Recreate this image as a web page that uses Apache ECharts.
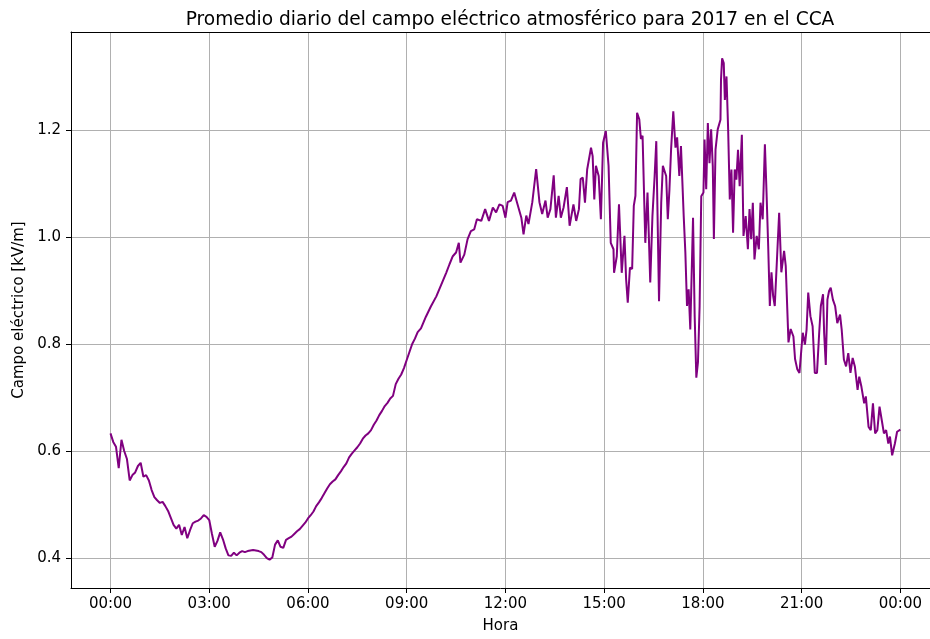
<!DOCTYPE html>
<html>
<head>
<meta charset="utf-8">
<title>Campo eléctrico 2017 CCA</title>
<script src="https://cdn.jsdelivr.net/npm/echarts@6.0.0/dist/echarts.min.js"></script>
<style>
  html, body { margin: 0; padding: 0; background: #fff; }
  #chart { width: 930px; height: 639px; }
</style>
</head>
<body>
<div id="chart"></div>
<script>
// minutos desde 00:00 y campo en kV/m
const tMadrugada = [0,5,10,15,20,25,30,35,40,45,50,55,60,65,70,75,80,85,90,95,100,105,110,115,120,125,130,135,140,145,150,155,160,165,170,175,180,185,190,195,200,205,210,215,220,225,230,235,240,245,250,255,260,265,270,275,280,285,290,295,300,305,310,315,320,325,330,335,340,345,350,355];
const vMadrugada = [0.633,0.617,0.608,0.568,0.621,0.600,0.585,0.545,0.555,0.560,0.572,0.578,0.552,0.555,0.545,0.527,0.514,0.508,0.503,0.505,0.497,0.488,0.475,0.462,0.455,0.462,0.443,0.458,0.437,0.452,0.465,0.468,0.470,0.474,0.480,0.477,0.471,0.445,0.421,0.432,0.448,0.435,0.418,0.405,0.404,0.410,0.405,0.410,0.413,0.411,0.413,0.414,0.415,0.414,0.413,0.411,0.406,0.400,0.397,0.401,0.425,0.433,0.421,0.419,0.434,0.437,0.440,0.445,0.450,0.454,0.460,0.466];

const tManana = [360,365,370,375,380,385,390,395,400,405,410,415,420,425,430,435,440,445,450,455,460,465,470,475,480,485,490,495,500,505,510,515,520,525,530,535,540,545,550,555,560,566,575,584,594,603,612,618,624,630,635,638,645,651,657,663,668,676,683,690,697,703,709,715];
const vManana = [0.474,0.480,0.487,0.497,0.504,0.512,0.521,0.530,0.538,0.543,0.547,0.555,0.562,0.570,0.577,0.588,0.595,0.601,0.607,0.614,0.623,0.629,0.633,0.639,0.649,0.657,0.667,0.675,0.684,0.690,0.698,0.703,0.725,0.735,0.743,0.755,0.770,0.785,0.800,0.810,0.822,0.829,0.851,0.870,0.889,0.911,0.933,0.949,0.964,0.971,0.989,0.952,0.967,0.996,1.011,1.014,1.033,1.030,1.052,1.030,1.055,1.046,1.061,1.058];

const tTarde = [720,724,730,736,742,749,753,758,762,769,776,782,787,793,797,802,808,812,817,821,826,832,837,844,849,854,857,861,865,869,876,879,882,885,890,894,898,903,908,912,917,918,923,927,932,937,940,943,947,951,954,957,960,964,967,970,975,979,984,988,992,995,1000,1004,1007,1013,1016,1019,1022,1026,1030,1033,1037,1040,1045,1048,1051,1054,1057,1062,1065,1068,1071,1074,1077];
const vTarde = [1.036,1.065,1.068,1.083,1.061,1.036,1.005,1.040,1.024,1.065,1.127,1.065,1.043,1.068,1.036,1.052,1.115,1.036,1.077,1.036,1.055,1.093,1.021,1.061,1.030,1.052,1.108,1.111,1.064,1.126,1.167,1.151,1.070,1.133,1.114,1.033,1.176,1.198,1.133,0.989,0.977,0.933,0.964,1.061,0.933,1.002,0.921,0.877,0.943,0.940,1.058,1.077,1.232,1.220,1.183,1.189,0.989,1.083,0.915,1.039,1.114,1.179,0.880,1.064,1.133,1.114,1.033,1.089,1.164,1.235,1.167,1.186,1.114,1.170,1.039,0.971,0.871,0.902,0.827,1.036,0.852,0.737,0.766,0.871,1.076];

const tNoche = [1081,1083,1086,1089,1092,1095,1098,1100,1103,1107,1112,1113,1115,1118,1120,1123,1126,1129,1132,1135,1138,1141,1144,1147,1151,1154,1158,1162,1165,1168,1171,1174,1178,1182,1185,1189,1193,1196,1199,1202,1205,1208,1211,1215,1219,1223,1228,1231,1236,1240,1245,1248,1252,1256,1262,1266,1269,1272,1276,1280,1284,1288,1292,1295,1299,1301,1304,1307,1310,1313,1317,1321,1325,1330,1333,1337,1341,1345,1349,1353,1357,1362,1365,1369,1374,1377,1382,1386,1390,1394,1398,1402,1406,1410,1414,1418,1421,1425,1430,1434,1440];
const vNoche = [1.083,1.182,1.089,1.213,1.138,1.201,1.132,0.996,1.163,1.201,1.219,1.294,1.334,1.325,1.256,1.300,1.201,1.070,1.126,1.008,1.126,1.107,1.163,1.095,1.191,1.002,1.039,0.977,1.052,0.996,1.064,0.958,1.002,0.977,1.064,1.033,1.173,1.083,0.983,0.871,0.934,0.890,0.871,0.958,1.045,0.934,0.974,0.946,0.803,0.828,0.814,0.772,0.753,0.746,0.821,0.799,0.827,0.896,0.852,0.833,0.746,0.746,0.821,0.871,0.893,0.821,0.761,0.883,0.899,0.905,0.883,0.871,0.839,0.855,0.827,0.771,0.758,0.783,0.746,0.774,0.758,0.714,0.739,0.720,0.689,0.702,0.645,0.639,0.689,0.633,0.639,0.683,0.658,0.633,0.639,0.614,0.627,0.592,0.614,0.636,0.640];

const horasTicks = [0,180,360,540,720,900,1080,1260,1440];
const campoTicks = [0.4,0.6,0.8,1.0,1.2];

const minutos = tMadrugada.concat(tManana, tTarde, tNoche);
const campo = vMadrugada.concat(vManana, vTarde, vNoche);
const serie = minutos.map((t, i) => [t, campo[i]]);

const fuente = 'DejaVu Sans';
const negro = '#000000';

function fmtHora(v) {
  const h = Math.round(v / 60) % 24;
  return (h < 10 ? '0' : '') + h + ':00';
}

const chart = echarts.init(document.getElementById('chart'), null, { renderer: 'canvas' });
chart.setOption({
  animation: false,
  backgroundColor: '#ffffff',
  title: {
    text: 'Promedio diario del campo eléctrico atmosférico para 2017 en el CCA',
    left: 505,
    textAlign: 'center',
    top: 6,
    textStyle: { fontFamily: fuente, fontSize: 18.6, fontWeight: 'normal', color: negro }
  },
  grid: { left: 71, right: 0, top: 32, bottom: 51, containLabel: false },
  xAxis: [{
    type: 'value',
    min: -72,
    max: 1494,
    name: 'Hora',
    nameLocation: 'middle',
    nameGap: 31,
    nameTextStyle: { fontFamily: fuente, fontSize: 15, color: negro },
    axisLine: { show: true, onZero: false, lineStyle: { color: negro, width: 1 } },
    axisTick: { show: true, length: 5, customValues: horasTicks, lineStyle: { color: negro, width: 1 } },
    axisLabel: { customValues: horasTicks, formatter: fmtHora, margin: 9, fontFamily: fuente, fontSize: 15, color: negro },
    splitLine: { show: true, lineStyle: { color: '#b0b0b0', width: 1 } }
  }, {
    type: 'value',
    position: 'top',
    min: -72,
    max: 1494,
    axisLine: { show: true, onZero: false, lineStyle: { color: negro, width: 1 } },
    axisTick: { show: false },
    axisLabel: { show: false },
    splitLine: { show: false }
  }],
  yAxis: {
    type: 'value',
    min: 0.344,
    max: 1.383,
    name: 'Campo eléctrico [kV/m]',
    nameLocation: 'middle',
    nameGap: 42,
    nameTextStyle: { fontFamily: fuente, fontSize: 15, color: negro },
    axisLine: { show: true, onZero: false, lineStyle: { color: negro, width: 1 } },
    axisTick: { show: true, length: 5, customValues: campoTicks, lineStyle: { color: negro, width: 1 } },
    axisLabel: { customValues: campoTicks, formatter: v => v.toFixed(1), margin: 10, fontFamily: fuente, fontSize: 15, color: negro },
    splitLine: { show: true, lineStyle: { color: '#b0b0b0', width: 1 } }
  },
  series: [{
    type: 'line',
    data: serie,
    showSymbol: false,
    xAxisIndex: 0,
    lineStyle: { color: '#800080', width: 2 },
    itemStyle: { color: '#800080' }
  }]
});
</script>
</body>
</html>
